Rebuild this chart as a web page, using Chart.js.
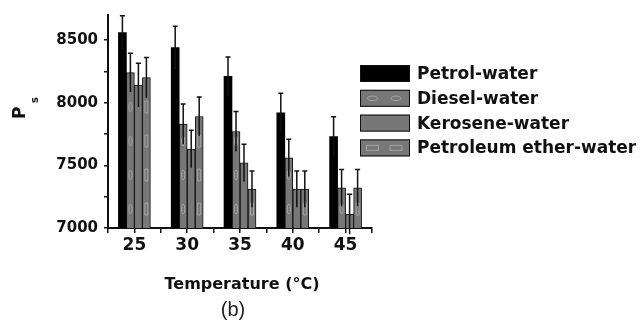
<!DOCTYPE html>
<html>
<head>
<meta charset="utf-8">
<script src="https://cdn.jsdelivr.net/npm/chart.js@4/dist/chart.umd.min.js"></script>
<style>
  body { margin: 0; background: #fff; }
  canvas { display: block; }
</style>
</head>
<body>
<canvas id="psChart" width="641" height="329"></canvas>
<script>
// --- data ---
const temps = [25, 30, 35, 40, 45];
const seriesNames = ["Petrol-water", "Diesel-water", "Kerosene-water", "Petroleum ether-water"];

const petrol    = [8560, 8440, 8210, 7920, 7730];
const diesel    = [8240, 7830, 7770, 7560, 7320];
const kerosene  = [8140, 7630, 7520, 7310, 7110];
const petroleum = [8200, 7890, 7310, 7310, 7320];

const petrolErr    = [135, 170, 155, 155, 158];
const dieselErr    = [155, 160, 160, 148, 146];
const keroseneErr  = [175, 150, 148, 145, 160];
const petroleumErr = [160, 156, 145, 145, 146];

// tick marks (labels only on the major ones)
const xTickValues = [22.5, 25, 27.5, 30, 32.5, 35, 37.5, 40, 42.5, 45, 47.5];
const yTickValues = [7000, 7250, 7500, 7750, 8000, 8250, 8500];
const yTicksMajor = [7000, 7500, 8000, 8500];

const INK = "#111";
const GREY = "#777";

// little shapes drawn inside the patterned bars
function drawFill(ctx, kind, x, y, w, h, horizontal) {
  ctx.save();
  ctx.strokeStyle = "#a5a5a5";
  ctx.lineWidth = 1;
  if (horizontal) {
    const cy = y + h / 2;
    [x + w * 0.25, x + w * 0.72].forEach(cx => {
      ctx.beginPath();
      if (kind === "ellipse") ctx.ellipse(cx, cy, 5, 2.2, 0, 0, Math.PI * 2);
      else ctx.rect(cx - 6, cy - 2.5, 12, 5);
      ctx.stroke();
    });
  } else {
    ctx.beginPath();
    ctx.rect(x, y, w, h);
    ctx.clip();
    const cx = x + w / 2;
    for (let cy = y + h - 18; cy - 6 > y; cy -= 34) {
      ctx.beginPath();
      if (kind === "ellipse") ctx.ellipse(cx, cy, 1.6, 5, 0, 0, Math.PI * 2);
      else ctx.rect(cx - 1.5, cy - 6, 3, 12);
      ctx.stroke();
    }
  }
  ctx.restore();
}

const extras = {
  id: "extras",
  afterDatasetsDraw(chart) {
    const ctx = chart.ctx;
    const yScale = chart.scales.y;
    const bottom = chart.chartArea.bottom;
    chart.data.datasets.forEach((ds, i) => {
      const meta = chart.getDatasetMeta(i);
      meta.data.forEach((bar, j) => {
        const left = bar.x - bar.width / 2;
        const base = Math.min(bar.base, bottom);
        if (ds.fillKind) {
          drawFill(ctx, ds.fillKind, left + 1, bar.y + 1, bar.width - 2, base - bar.y - 2, false);
        }
        // error bar
        const v = ds.data[j];
        const top = yScale.getPixelForValue(v + ds.errors[j]);
        const low = yScale.getPixelForValue(v - ds.errors[j]);
        ctx.save();
        ctx.strokeStyle = INK;
        ctx.lineWidth = 1.5;
        ctx.beginPath();
        ctx.moveTo(bar.x, low);
        ctx.lineTo(bar.x, top);
        ctx.moveTo(bar.x - 2.5, top);
        ctx.lineTo(bar.x + 2.5, top);
        ctx.stroke();
        ctx.restore();
      });
    });
  },
  afterDraw(chart) {
    const ctx = chart.ctx;
    const area = chart.chartArea;
    ctx.save();
    ctx.fillStyle = INK;

    // y axis title P with subscript s
    ctx.save();
    ctx.translate(25, 119);
    ctx.rotate(-Math.PI / 2);
    ctx.textAlign = "left";
    ctx.textBaseline = "alphabetic";
    ctx.font = "bold 17px 'DejaVu Sans'";
    ctx.fillText("P", 0, 0);
    ctx.font = "bold 10px 'DejaVu Sans'";
    ctx.fillText("s", 16, 13);
    ctx.restore();

    // x axis title
    ctx.textAlign = "center";
    ctx.textBaseline = "middle";
    ctx.font = "bold 16px 'DejaVu Sans'";
    ctx.fillText("Temperature (°C)", (area.left + area.right) / 2 + 2, 285);

    ctx.font = "20px 'Liberation Sans'";
    ctx.fillStyle = "#222";
    ctx.fillText("(b)", 233, 310);

    // legend
    ctx.textAlign = "left";
    chart.data.datasets.forEach((ds, i) => {
      const bx = 360, by = 65 + i * 24.8, bw = 50, bh = 17;
      ctx.fillStyle = ds.backgroundColor;
      ctx.fillRect(bx, by, bw, bh);
      ctx.strokeStyle = INK;
      ctx.lineWidth = 1;
      ctx.strokeRect(bx + 0.5, by + 0.5, bw - 1, bh - 1);
      if (ds.fillKind) drawFill(ctx, ds.fillKind, bx, by, bw, bh, true);
      ctx.fillStyle = INK;
      ctx.font = "bold 17px 'DejaVu Sans'";
      ctx.fillText(ds.label, 417, by + bh / 2 + 1);
    });
    ctx.restore();
  }
};

const values = [petrol, diesel, kerosene, petroleum];
const errs = [petrolErr, dieselErr, keroseneErr, petroleumErr];
const fills = [null, "ellipse", null, "rect"];

const ctx = document.getElementById("psChart").getContext("2d");

const psChart = new Chart(ctx, {
  type: "bar",
  data: {
    labels: temps,
    datasets: seriesNames.map((name, i) => ({
      label: name,
      data: values[i],
      errors: errs[i],
      fillKind: fills[i],
      backgroundColor: i === 0 ? "#000" : GREY,
      borderColor: INK,
      borderWidth: i === 0 ? 0 : 1,
      barThickness: 8
    }))
  },
  options: {
    responsive: false,
    animation: false,
    layout: { padding: { left: 0, top: 13, right: 269, bottom: 0 } },
    plugins: {
      legend: { display: false },
      tooltip: { enabled: false }
    },
    scales: {
      x: {
        type: "linear",
        min: 22.5,
        max: 47.5,
        offset: false,
        afterBuildTicks: s => { s.ticks = xTickValues.map(v => ({ value: v })); },
        afterFit: s => { s.height = 101; },
        border: { color: INK, width: 2 },
        grid: { offset: false, drawOnChartArea: false, tickLength: 5, color: INK, lineWidth: 1.5 },
        ticks: {
          autoSkip: false,
          maxRotation: 0,
          padding: 2,
          color: INK,
          font: { family: "DejaVu Sans", weight: "bold", size: 17 },
          callback: v => (temps.includes(v) ? String(v) : "")
        }
      },
      y: {
        min: 7000,
        max: 8700,
        afterBuildTicks: s => { s.ticks = yTickValues.map(v => ({ value: v })); },
        afterFit: s => { s.width = 108; },
        border: { color: INK, width: 2 },
        grid: { drawOnChartArea: false, tickLength: 4, color: INK, lineWidth: 1.5 },
        ticks: {
          autoSkip: false,
          padding: 6,
          color: INK,
          font: { family: "DejaVu Sans", weight: "bold", size: 15 },
          callback: v => (yTicksMajor.includes(v) ? String(v) : "")
        }
      }
    }
  },
  plugins: [extras]
});
</script>
</body>
</html>
